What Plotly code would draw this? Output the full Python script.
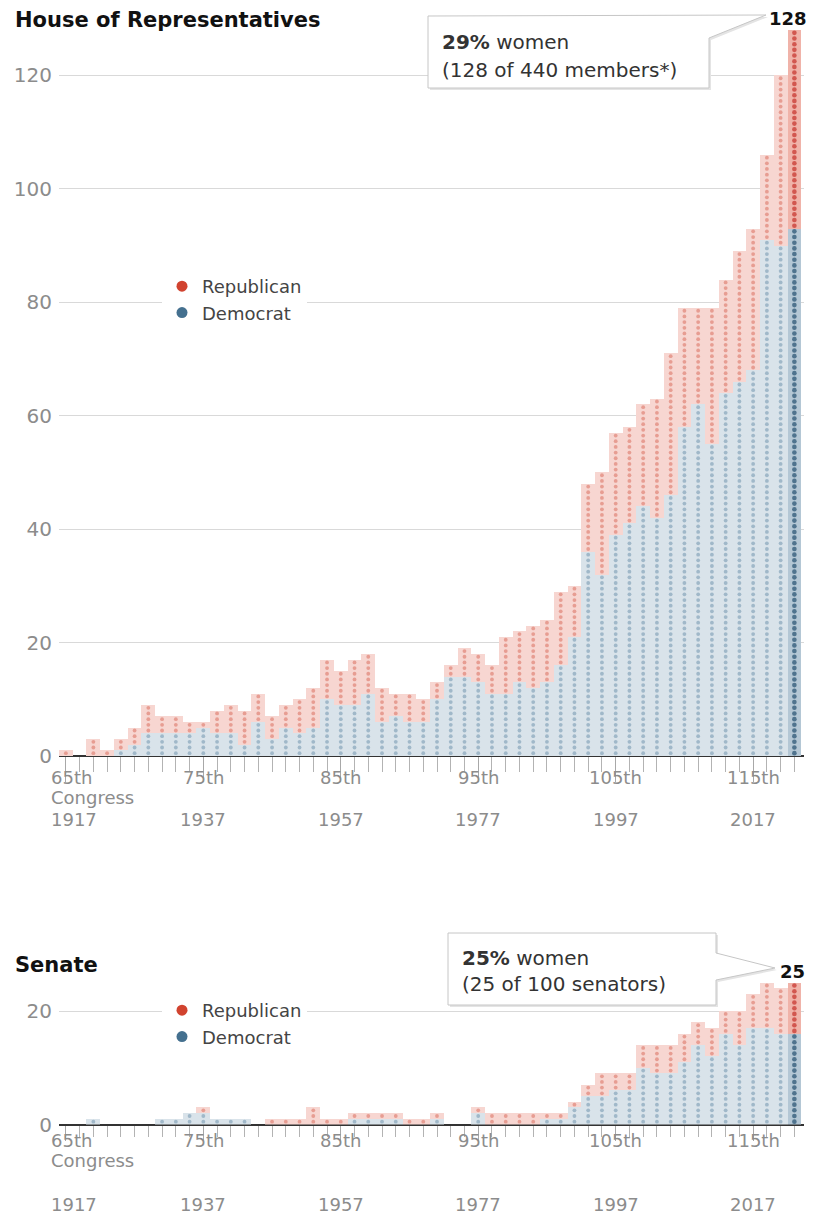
import plotly.graph_objects as go

# Congress numbers on the x axis (65th = 1917 ... 118th = 2023)
congress = list(range(65, 119))
label_congress = [65, 75, 85, 95, 105, 115]
label_ord = ["65th", "75th", "85th", "95th", "105th", "115th"]
label_year = ["1917", "1937", "1957", "1977", "1997", "2017"]

# Women in the House, by party
house_dem = [0, 0, 0, 0, 1, 2, 4, 4, 4, 4, 5, 4, 4, 2, 6, 3, 5, 4, 5, 10,
             9, 9, 11, 6, 7, 6, 6, 10, 14, 14, 13, 11, 11, 13, 12, 13, 16, 21, 36, 32,
             39, 41, 44, 42, 46, 58, 62, 55, 64, 66, 68, 91, 90, 93]
house_rep = [1, 0, 3, 1, 2, 3, 5, 3, 3, 2, 1, 4, 5, 6, 5, 4, 4, 6, 7, 7,
             6, 8, 7, 6, 4, 5, 4, 3, 2, 5, 5, 5, 10, 9, 11, 11, 13, 9, 12, 18,
             18, 17, 18, 21, 25, 21, 17, 24, 20, 23, 25, 15, 30, 35]

# Women in the Senate, by party
senate_dem = [0, 0, 1, 0, 0, 0, 0, 1, 1, 2, 2, 1, 1, 1, 0, 0, 0, 0, 0, 0,
              0, 1, 1, 1, 1, 0, 0, 1, 0, 0, 2, 0, 0, 0, 0, 1, 1, 3, 5, 5,
              6, 6, 10, 9, 9, 11, 14, 12, 16, 14, 17, 17, 16, 16]
senate_rep = [0, 0, 0, 0, 0, 0, 0, 0, 0, 0, 1, 0, 0, 0, 0, 1, 1, 1, 3, 1,
              1, 1, 1, 1, 1, 1, 1, 1, 0, 0, 1, 2, 2, 2, 2, 1, 1, 1, 2, 4,
              3, 3, 4, 5, 5, 5, 4, 5, 4, 6, 6, 8, 8, 9]

house_members = 440
senate_members = 100

# page has an 8px body margin, so the figure is a bit smaller than the window
PAGE = 8
W, H = 819 - 2 * PAGE, 1225 - 2 * PAGE
FONT = "DejaVu Sans"

D_FILL, D_FILL_LAST, D_DOT, D_DOT_LAST = "#d9e3ea", "#b4c7d5", "#88a5bb", "#24506f"
R_FILL, R_FILL_LAST, R_DOT, R_DOT_LAST = "#f7d6d1", "#f0b3a9", "#df8478", "#c4302a"
D_KEY, R_KEY = "#44708f", "#d1432f"


def fx(px):
    # window pixel -> paper fraction
    return (px - PAGE) / W


def fy(py):
    return 1 - (py - PAGE) / H


def last_flag(normal, last):
    return [last if c == congress[-1] else normal for c in congress]


def dot_positions(dem, rep):
    """One dot per member, stacked on top of each other."""
    out = {}
    for party, base_vals, counts in (("D", [0] * len(dem), dem), ("R", dem, rep)):
        xs, ys, cols, sizes = [], [], [], []
        for c, base, n in zip(congress, base_vals, counts):
            last = c == congress[-1]
            for i in range(n):
                xs.append(c)
                ys.append(base + i + 0.5)
                if party == "D":
                    cols.append(D_DOT_LAST if last else D_DOT)
                else:
                    cols.append(R_DOT_LAST if last else R_DOT)
                sizes.append(4.6 if last else 3.8)
        out[party] = (xs, ys, cols, sizes)
    return out


fig = go.Figure()


def add_chamber(dem, rep, xa, ya, legend):
    fig.add_trace(go.Bar(
        x=congress, y=dem, width=1, xaxis=xa, yaxis=ya,
        marker=dict(color=last_flag(D_FILL, D_FILL_LAST), line=dict(width=0)),
        showlegend=False, hoverinfo="skip",
    ))
    fig.add_trace(go.Bar(
        x=congress, y=rep, width=1, xaxis=xa, yaxis=ya,
        marker=dict(color=last_flag(R_FILL, R_FILL_LAST), line=dict(width=0)),
        showlegend=False, hoverinfo="skip",
    ))
    pos = dot_positions(dem, rep)
    for party in ("D", "R"):
        xs, ys, cols, sizes = pos[party]
        fig.add_trace(go.Scatter(
            x=xs, y=ys, mode="markers", xaxis=xa, yaxis=ya,
            marker=dict(color=cols, size=sizes, line=dict(width=0)),
            showlegend=False, hoverinfo="skip",
        ))
    # legend keys
    fig.add_trace(go.Scatter(x=[None], y=[None], mode="markers", name="Republican",
                             marker=dict(color=R_KEY, size=11), legend=legend,
                             xaxis=xa, yaxis=ya))
    fig.add_trace(go.Scatter(x=[None], y=[None], mode="markers", name="Democrat",
                             marker=dict(color=D_KEY, size=11), legend=legend,
                             xaxis=xa, yaxis=ya))


add_chamber(house_dem, house_rep, "x", "y", "legend")
add_chamber(senate_dem, senate_rep, "x2", "y2", "legend2")

xdom = [fx(59), fx(804)]
xcommon = dict(range=[64.5, 118.7], domain=xdom, showgrid=False, zeroline=False,
               showticklabels=False, fixedrange=True, showline=False,
               tickmode="array", tickvals=label_congress, ticks="outside",
               tickcolor="#a8a8a8", tickwidth=1)
ycommon = dict(showgrid=True, gridcolor="#d9d9d9", gridwidth=1, zeroline=True,
               zerolinecolor="#333333", zerolinewidth=2, ticks="",
               tickfont=dict(family=FONT, size=20, color="#8c8c8c"),
               ticklabelstandoff=6, showline=False, automargin=False)
legend_common = dict(xanchor="left", yanchor="top", bgcolor="white", borderwidth=0,
                     itemsizing="trace", traceorder="normal", tracegroupgap=0,
                     itemwidth=30, font=dict(family=FONT, size=18, color="#444444"))

fig.update_layout(
    width=W, height=H, margin=dict(l=0, r=0, t=0, b=0),
    paper_bgcolor="white", plot_bgcolor="white",
    barmode="stack", bargap=0,
    font=dict(family=FONT, color="#333333"),
    xaxis=dict(**xcommon, anchor="y", ticklen=25,
               minor=dict(tickvals=congress, ticklen=15, ticks="outside",
                          tickcolor="#b3b3b3", tickwidth=1)),
    yaxis=dict(**ycommon, domain=[fy(756), fy(13)], range=[0, 131],
               tickvals=[0, 20, 40, 60, 80, 100, 120], anchor="x"),
    xaxis2=dict(**xcommon, anchor="y2", ticklen=15,
                minor=dict(tickvals=congress, ticklen=11, ticks="outside",
                           tickcolor="#b3b3b3", tickwidth=1)),
    yaxis2=dict(**ycommon, domain=[fy(1124.5), fy(977)], range=[0, 26],
                tickvals=[0, 20], anchor="x2"),
    legend=dict(**legend_common, x=fx(162), y=fy(268)),
    legend2=dict(**legend_common, x=fx(162), y=fy(992)),
    showlegend=True,
)


def path(points):
    return "M " + " L ".join(f"{fx(x)},{fy(y)}" for x, y in points) + " Z"


house_box = [(428, 16), (766, 15), (709, 38), (709, 88), (428, 88)]
senate_box = [(448, 933), (716, 933), (716, 953), (775, 968), (716, 980),
              (716, 1005), (448, 1005)]
shapes = []
for pts in (house_box, senate_box):
    shadow = [(x + 2, y + 2) for x, y in pts]
    shapes.append(dict(type="path", path=path(shadow), xref="paper", yref="paper",
                       fillcolor="#e4e4e4", line=dict(width=0), layer="above"))
    shapes.append(dict(type="path", path=path(pts), xref="paper", yref="paper",
                       fillcolor="white", line=dict(color="#c6c6c6", width=1),
                       layer="above"))
fig.update_layout(shapes=shapes)

ann = []
# panel titles
for title, ypx in (("House of Representatives", 20), ("Senate", 965)):
    ann.append(dict(text=f"<b>{title}</b>", x=fx(13), y=fy(ypx),
                    xref="paper", yref="paper", xanchor="left", yanchor="middle",
                    showarrow=False, font=dict(family=FONT, size=21, color="#111111")))

# callout texts
h_tot = house_dem[-1] + house_rep[-1]
s_tot = senate_dem[-1] + senate_rep[-1]
box_font = dict(family=FONT, size=20, color="#333333")
ann += [
    dict(text=f"<b>{round(100 * h_tot / house_members)}%</b> women", x=fx(440), y=fy(42),
         xref="paper", yref="paper", xanchor="left", yanchor="middle",
         showarrow=False, font=box_font),
    dict(text=f"({h_tot} of {house_members} members*)", x=fx(440), y=fy(70),
         xref="paper", yref="paper", xanchor="left", yanchor="middle",
         showarrow=False, font=box_font),
    dict(text=f"<b>{round(100 * s_tot / senate_members)}%</b> women", x=fx(460), y=fy(958),
         xref="paper", yref="paper", xanchor="left", yanchor="middle",
         showarrow=False, font=box_font),
    dict(text=f"({s_tot} of {senate_members} senators)", x=fx(460), y=fy(984),
         xref="paper", yref="paper", xanchor="left", yanchor="middle",
         showarrow=False, font=box_font),
    dict(text=f"<b>{h_tot}</b>", x=congress[-1], y=h_tot, xref="x", yref="y",
         xanchor="center", yanchor="bottom", xshift=-6, yshift=0, showarrow=False,
         borderpad=0, font=dict(family=FONT, size=18, color="#111111")),
    dict(text=f"<b>{s_tot}</b>", x=congress[-1], y=s_tot, xref="x2", yref="y2",
         xanchor="center", yanchor="bottom", xshift=-2, yshift=0, showarrow=False,
         borderpad=0, font=dict(family=FONT, size=18, color="#111111")),
]

# x-axis labels: ordinal, "Congress" under the first, year
lab_font = dict(family=FONT, size=18, color="#8c8c8c")
for xr, y_ord, y_cong, y_year in (("x", 777, 797, 819), ("x2", 1140, 1160, 1204)):
    for i, (c, o, yr) in enumerate(zip(label_congress, label_ord, label_year)):
        first = i == 0
        common = dict(x=c, xref=xr, yref="paper", showarrow=False, font=lab_font,
                      xanchor="left" if first else "center", borderpad=0,
                      xshift=-16 if first else 0, yanchor="middle")
        ann.append(dict(text=o, y=fy(y_ord), **common))
        ann.append(dict(text=yr, y=fy(y_year), **common))
        if first:
            ann.append(dict(text="Congress", y=fy(y_cong), **common))

fig.update_layout(annotations=ann)

fig.write_html("out.html")
